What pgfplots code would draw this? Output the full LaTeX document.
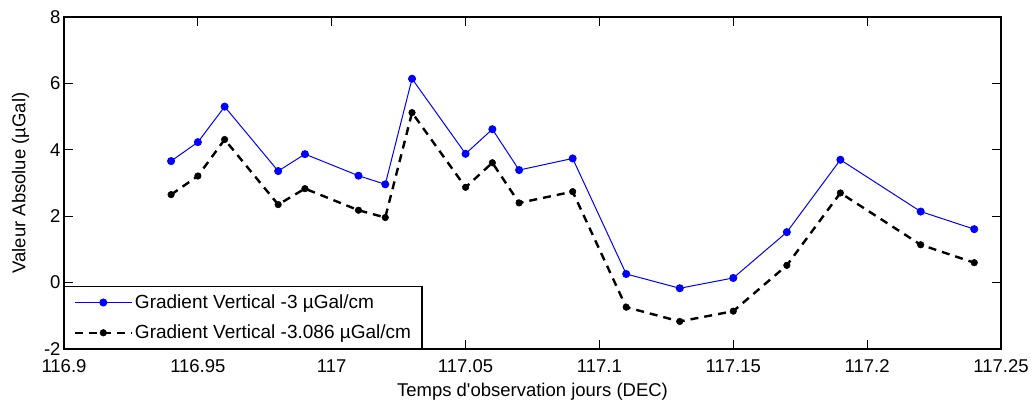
\documentclass[border=0pt]{standalone}
\usepackage{fontspec}
\setmainfont{Liberation Sans}[Ligatures=TeXOff]
\usepackage{pgfplots}
\pgfplotsset{compat=1.18}
\usetikzlibrary{calc}

\definecolor{mblue}{RGB}{0,0,255}

\begin{document}
\begin{tikzpicture}
\begin{axis}[
  name=ax,
  scale only axis, width=937pt, height=332pt,
  xmin=116.9, xmax=117.25, ymin=-2, ymax=8,
  xtick={116.9,116.95,117,117.05,117.1,117.15,117.2,117.25},
  ytick={-2,0,2,4,6,8},
  scaled x ticks=false,
  xticklabel style={yshift=-7pt, /pgf/number format/fixed, /pgf/number format/precision=2},
  /pgf/number format/assume math mode=true,
  tick align=inside, major tick length=9pt,
  tick style={black, line width=0.9pt},
  axis line style={line width=1.2pt},
  font=\fontsize{18.5}{21}\selectfont,
  ticklabel style={font=\fontsize{18.5}{21}\selectfont},
  xlabel={Temps d'observation jours (DEC)},
  ylabel={Valeur Absolue (µGal)},
  xlabel shift=4pt,
  ylabel shift=8pt,
  legend style={at={(0,0)}, anchor=south west, draw=black, line width=1.2pt,
    fill=white, font=\fontsize{19}{21}\selectfont, cells={anchor=west},
    inner xsep=9pt, inner ysep=6pt, row sep=11pt},
  legend image code/.code={
    \draw[mark repeat=2,mark phase=2,#1] plot coordinates {(0pt,0pt) (28.5pt,0pt) (57pt,0pt)};
  },
]
% gradient -3 uGal/cm
\addplot[mblue, line width=1pt, mark=*, mark size=3.5pt, mark options={solid, fill=mblue, draw=mblue}]
  coordinates {
  (116.94,3.66) (116.95,4.23) (116.96,5.30) (116.98,3.36) (116.99,3.87)
  (117.01,3.22) (117.02,2.96) (117.03,6.14) (117.05,3.88) (117.06,4.62)
  (117.07,3.39) (117.09,3.74) (117.11,0.26) (117.13,-0.17) (117.15,0.14)
  (117.17,1.52) (117.19,3.70) (117.22,2.14) (117.24,1.61)
  };
\addlegendentry{Gradient Vertical -3 µGal/cm}
% gradient -3.086 uGal/cm
\addplot[black, line width=2.4pt, dash pattern=on 8pt off 6pt, mark=*, mark size=3.3pt, mark options={solid, fill=black, line width=0.5pt}]
  coordinates {
  (116.94,2.65) (116.95,3.21) (116.96,4.31) (116.98,2.35) (116.99,2.83)
  (117.01,2.18) (117.02,1.96) (117.03,5.12) (117.05,2.87) (117.06,3.61)
  (117.07,2.40) (117.09,2.74) (117.11,-0.74) (117.13,-1.17) (117.15,-0.86)
  (117.17,0.52) (117.19,2.70) (117.22,1.14) (117.24,0.60)
  };
\addlegendentry{Gradient Vertical -3.086 µGal/cm}
\end{axis}
\pgfresetboundingbox
\path[use as bounding box] ($(ax.south west)+(-64pt,-54pt)$) rectangle ($(ax.north east)+(34pt,17pt)$);
\end{tikzpicture}
\end{document}
